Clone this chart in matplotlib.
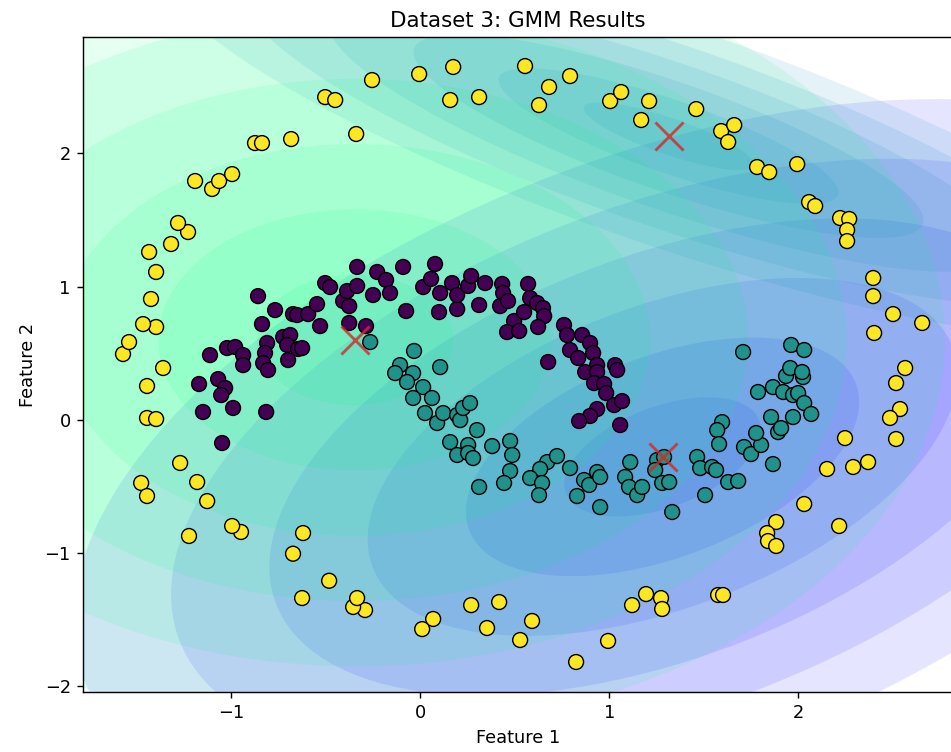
import numpy as np
import matplotlib.pyplot as plt
from matplotlib.patches import Ellipse

# cluster 0 - upper moon (purple)
moon_up_x = [-0.857, -0.767, -0.672, -0.650, -0.592, -0.545, -0.502, -0.476, -0.407, -0.375,
             -0.386, -0.333, -0.333, -0.249, -0.227, -0.180, -0.159, -0.090, -0.074, 0.016,
             0.079, 0.058, 0.106, 0.100, 0.169, 0.196, 0.196, 0.254, 0.270, 0.312,
             0.344, 0.434, 0.439, 0.423, 0.465, 0.497, 0.460, 0.524, 0.571, 0.582,
             0.619, 0.650, 0.656, 0.550, 0.624, 0.761, 0.777, 0.857, 0.899, 0.793,
             0.836, 0.915, 0.677, 0.936, 1.031, 1.042, 0.873, 0.936, 0.920, 0.973,
             0.984, 1.026, 1.068, 0.936, 0.899, 0.841, 1.058, -0.529, -0.375, -0.286,
             -0.836, -0.724, -0.687, -0.809, -0.703, -0.645, -0.698, -0.820, -0.830, -0.804,
             -1.021, -0.978, -0.936, -0.936, -1.111, -0.624, -1.169, -1.068, -1.031, -1.052,
             -1.148, -0.989, -0.814, -1.047]
moon_up_y = [0.929, 0.824, 0.794, 0.787, 0.794, 0.869, 1.027, 0.997, 0.892, 0.854,
             0.967, 1.148, 1.005, 0.937, 1.110, 1.050, 0.952, 1.148, 0.817, 0.997,
             1.170, 1.058, 0.952, 0.809, 1.027, 0.832, 0.937, 1.005, 1.080, 0.862,
             1.027, 1.020, 0.952, 0.854, 0.892, 0.742, 0.659, 0.667, 1.020, 0.914,
             0.877, 0.839, 0.779, 0.809, 0.697, 0.712, 0.637, 0.637, 0.577, 0.524,
             0.464, 0.502, 0.434, 0.411, 0.411, 0.374, 0.359, 0.359, 0.276, 0.269,
             0.201, 0.111, 0.141, 0.081, 0.029, -0.009, -0.039, 0.704, 0.727, 0.704,
             0.719, 0.622, 0.637, 0.577, 0.562, 0.532, 0.449, 0.502, 0.426, 0.374,
             0.539, 0.547, 0.486, 0.411, 0.486, 0.539, 0.269, 0.306, 0.239, 0.186,
             0.059, 0.089, 0.059, -0.174]

# cluster 1 - lower moon (teal)
moon_low_x = [-0.264, -0.032, -0.106, -0.132, -0.037, -0.069, 0.016, -0.037, 0.063, 0.106,
              0.026, 0.090, 0.122, 0.196, 0.212, 0.227, 0.264, 0.301, 0.159, 0.196,
              0.254, 0.254, 0.280, 0.381, 0.476, 0.487, 0.476, 0.444, 0.312, 0.672,
              0.635, 0.582, 0.645, 0.629, 0.724, 0.793, 0.867, 0.894, 0.830, 0.936,
              0.952, 0.952, 1.111, 1.084, 1.105, 1.148, 1.174, 1.253, 1.290, 1.243,
              1.280, 1.317, 1.333, 1.465, 1.481, 1.544, 1.565, 1.507, 1.629, 1.682,
              1.597, 1.571, 1.581, 1.713, 1.750, 1.803, 1.777, 1.866, 1.856, 1.972,
              1.893, 1.909, 1.787, 1.866, 1.920, 1.972, 1.999, 2.031, 2.068, 1.935,
              2.025, 1.957, 2.020, 1.708, 1.962, 2.031]
moon_low_y = [0.584, 0.517, 0.411, 0.351, 0.351, 0.284, 0.246, 0.164, 0.164, 0.396,
              0.051, -0.024, 0.051, 0.036, -0.002, 0.089, 0.126, -0.077, -0.167, -0.264,
              -0.189, -0.249, -0.287, -0.197, -0.159, -0.264, -0.384, -0.474, -0.504, -0.317,
              -0.369, -0.437, -0.474, -0.565, -0.272, -0.362, -0.452, -0.489, -0.572, -0.392,
              -0.429, -0.655, -0.317, -0.429, -0.504, -0.565, -0.504, -0.302, -0.279, -0.377,
              -0.474, -0.467, -0.692, -0.279, -0.362, -0.354, -0.377, -0.565, -0.467, -0.459,
              -0.017, -0.077, -0.182, -0.204, -0.257, -0.189, -0.099, -0.332, 0.021, 0.021,
              -0.092, -0.062, 0.209, 0.246, 0.209, 0.186, 0.201, 0.126, 0.044, 0.329,
              0.321, 0.389, 0.359, 0.509, 0.562, 0.524]

# cluster 2 - outer ring (yellow)
ring_x = [-0.502, -0.449, -0.254, -0.338, -0.005, 0.175, 0.159, 0.312, 0.555, 0.682,
          0.793, 0.629, 1.005, 1.063, 1.211, 1.169, 1.460, 1.592, 1.661, 1.629,
          1.782, 1.846, 1.994, 2.057, 2.089, 2.221, 2.269, 2.258, 2.258, 2.396,
          2.396, 2.501, 2.655, 2.401, 2.565, 2.517, 2.538, 2.485, 2.517, 2.247,
          2.152, 2.290, 2.369, 2.031, 2.216, 1.883, 1.835, 1.840, 1.883, 1.576,
          1.602, 1.121, 1.195, 1.274, 1.280, 0.994, 0.825, 0.592, 0.529, 0.418,
          0.354, 0.270, 0.069, 0.011, -0.291, -0.354, -0.333, -0.481, -0.624, -0.619,
          -0.672, -0.947, -0.994, -1.222, -1.126, -1.179, -1.269, -1.475, -1.444, -1.444,
          -1.396, -1.444, -1.359, -1.571, -1.539, -1.396, -1.465, -1.423, -1.396, -1.433,
          -1.317, -1.227, -1.280, -1.190, -1.100, -1.063, -0.994, -0.873, -0.836, -0.682]
ring_y = [2.423, 2.401, 2.551, 2.146, 2.596, 2.649, 2.401, 2.423, 2.656, 2.499,
          2.581, 2.363, 2.393, 2.461, 2.393, 2.251, 2.333, 2.168, 2.213, 2.086,
          1.898, 1.860, 1.920, 1.635, 1.605, 1.515, 1.508, 1.425, 1.342, 1.065,
          0.929, 0.794, 0.727, 0.652, 0.389, 0.276, 0.081, 0.014, -0.144, -0.137,
          -0.369, -0.354, -0.317, -0.632, -0.797, -0.767, -0.850, -0.910, -0.947, -1.315,
          -1.315, -1.391, -1.308, -1.338, -1.420, -1.660, -1.818, -1.510, -1.653, -1.368,
          -1.563, -1.391, -1.495, -1.571, -1.428, -1.405, -1.338, -1.208, -1.338, -0.850,
          -1.005, -0.842, -0.797, -0.872, -0.610, -0.467, -0.324, -0.474, -0.572, 0.014,
          0.006, 0.254, 0.389, 0.494, 0.584, 0.697, 0.719, 0.907, 1.110, 1.260,
          1.320, 1.410, 1.478, 1.793, 1.733, 1.793, 1.845, 2.078, 2.078, 2.108]

# fitted gmm components (drawn in this order)
means_x = [1.282, 1.314, -0.344]
means_y = [-0.278, 2.130, 0.600]
semi_a = [0.59, 0.50, 0.52]      # one-sigma semi axes
semi_b = [0.35, 0.13, 0.49]
angles = [36, -27, 0]
ell_alpha = 0.1
n_rings = 6

X = np.column_stack([moon_up_x + moon_low_x + ring_x, moon_up_y + moon_low_y + ring_y])
labels = np.array([0] * len(moon_up_x) + [1] * len(moon_low_x) + [2] * len(ring_x))
ell_colors = plt.cm.winter(np.linspace(0, 1, len(means_x)))

fig = plt.figure(figsize=(951 / 128, 752 / 128), dpi=128)
ax = fig.add_axes([83.3 / 951, 60.3 / 752, (953 - 83.3) / 951, 654.4 / 752])

for i in range(len(means_x)):
    for k in range(1, n_rings + 1):
        ax.add_patch(Ellipse((means_x[i], means_y[i]), 2 * k * semi_a[i], 2 * k * semi_b[i],
                             angle=angles[i], facecolor=ell_colors[i], alpha=ell_alpha,
                             linewidth=0))

ax.scatter(X[:, 0], X[:, 1], c=labels, cmap='viridis', s=70, edgecolors='k', linewidths=0.8, zorder=3)
ax.scatter(means_x, means_y, c='tab:red', marker='x', s=250, linewidths=1.6, alpha=0.8, zorder=4)

ax.set_xlim(-1.781, 2.818)
ax.set_ylim(-2.041, 2.872)
ax.set_title('Dataset 3: GMM Results')
ax.set_xlabel('Feature 1')
ax.set_ylabel('Feature 2')

fig.savefig('out.png', dpi=128)
